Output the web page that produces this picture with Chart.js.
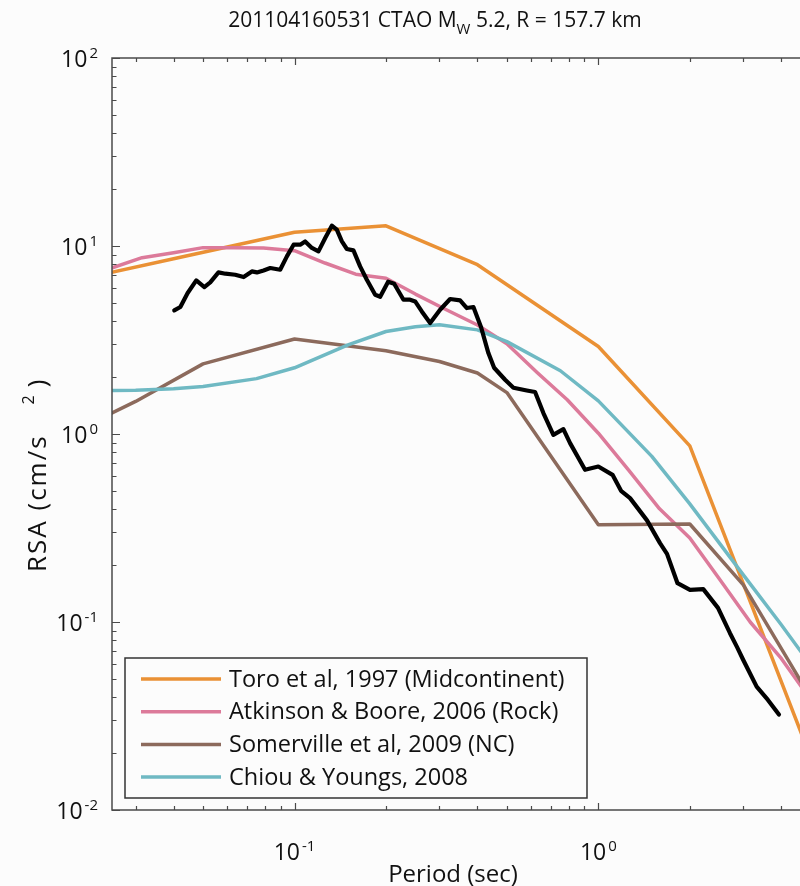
<!DOCTYPE html>
<html>
<head>
<meta charset="utf-8">
<title>RSA vs Period</title>
<script src="https://cdn.jsdelivr.net/npm/chart.js@4.4.1/dist/chart.umd.min.js"></script>
<style>
    html, body { margin: 0; padding: 0; background: #fcfcfc; }
    #wrap { width: 800px; height: 886px; }
</style>
</head>
<body>
<div id="wrap"><canvas id="rsaChart" width="800" height="886"></canvas></div>
<script>
// Toro et al, 1997 (Midcontinent)
const toroPeriods = [0.025, 0.04, 0.1, 0.2, 0.4, 1.0, 2.0, 5.0];
const toroRSA = [7.24, 8.56, 11.84, 12.8, 7.95, 2.92, 0.865, 0.019];

// Atkinson & Boore, 2006 (Rock)
const abPeriods = [0.025, 0.0315, 0.04, 0.05, 0.063, 0.079, 0.1, 0.126, 0.159, 0.2, 0.25, 0.316,
    0.4, 0.5, 0.63, 0.79, 1.0, 1.26, 1.59, 2.0, 2.5, 3.16, 4.0, 5.0];
const abRSA = [7.64, 8.67, 9.21, 9.8, 9.8, 9.75, 9.44, 8.12, 7.08, 6.74, 5.55, 4.58,
    3.8, 3.02, 2.12, 1.52, 1.01, 0.64, 0.4, 0.28, 0.17, 0.1, 0.064, 0.0385];

// Somerville et al, 2009 (NC)
const somPeriods = [0.025, 0.03, 0.05, 0.1, 0.2, 0.3, 0.4, 0.5, 1.0, 2.0, 3.0, 5.0];
const somRSA = [1.29, 1.49, 2.36, 3.2, 2.77, 2.43, 2.11, 1.66, 0.329, 0.332, 0.1575, 0.0395];

// Chiou & Youngs, 2008
const cyPeriods = [0.02, 0.03, 0.04, 0.05, 0.075, 0.1, 0.15, 0.2, 0.25, 0.3, 0.4, 0.5,
    0.75, 1.0, 1.5, 2.0, 3.0, 4.0, 5.0];
const cyRSA = [1.70, 1.71, 1.74, 1.79, 1.97, 2.25, 2.98, 3.51, 3.72, 3.81, 3.58, 3.1,
    2.17, 1.5, 0.76, 0.425, 0.178, 0.0967, 0.059];

// recorded spectrum
const obsPeriods = [0.0402, 0.0421, 0.0445, 0.0475, 0.0505, 0.0528, 0.0562, 0.0592, 0.0638, 0.0680,
    0.0724, 0.0752, 0.0791, 0.0832, 0.0897, 0.0944, 0.0993, 0.1044, 0.1084, 0.1141,
    0.1199, 0.1262, 0.1327, 0.1378, 0.1432, 0.1487, 0.1563, 0.1644, 0.1730, 0.1843,
    0.1914, 0.2033, 0.2128, 0.2284, 0.2402, 0.2495, 0.2624, 0.2795, 0.3014, 0.3252,
    0.3508, 0.3692, 0.3880, 0.4112, 0.4346, 0.4539, 0.4933, 0.5254, 0.5815, 0.6191,
    0.6594, 0.7111, 0.7672, 0.8071, 0.9042, 1.000, 1.1135, 1.1877, 1.2716, 1.4459,
    1.5955, 1.6827, 1.822, 2.003, 2.215, 2.476, 2.712, 2.859, 2.999, 3.319,
    3.615, 3.930];
const obsRSA = [4.543, 4.736, 5.622, 6.560, 6.050, 6.402, 7.236, 7.122, 7.035, 6.839,
    7.325, 7.236, 7.416, 7.638, 7.481, 8.805, 10.16, 10.16, 10.58, 9.76,
    9.36, 11.03, 12.83, 12.21, 10.58, 9.64, 9.475, 7.79, 6.616, 5.506,
    5.373, 6.457, 6.301, 5.179, 5.179, 5.073, 4.487, 3.893, 4.581, 5.224,
    5.135, 4.677, 4.736, 3.698, 2.695, 2.251, 1.943, 1.762, 1.704, 1.673,
    1.292, 0.990, 1.062, 0.8944, 0.645, 0.6714, 0.6064, 0.4984, 0.456, 0.3472,
    0.2627, 0.2304, 0.1609, 0.1482, 0.1495, 0.1189, 0.0872, 0.0737, 0.0628, 0.0453,
    0.0385, 0.0322];

const legendLabels = ["Toro et al, 1997 (Midcontinent)", "Atkinson & Boore, 2006 (Rock)",
    "Somerville et al, 2009 (NC)", "Chiou & Youngs, 2008"];
const xTickExps = [-1, 0];
const yTickExps = [2, 1, 0, -1, -2];

const FONT = '"Open Sans", "DejaVu Sans", sans-serif';
const AXIS_COLOR = "#4a4a4a";

function toPoints(periods, values) {
    return periods.map((p, i) => ({ x: p, y: values[i] }));
}

function minorValues(min, max) {
    const out = [];
    for (let d = -3; d <= 2; d++) {
        for (let m = 1; m <= 9; m++) {
            const v = m * Math.pow(10, d);
            if (v >= min * 0.999 && v <= max * 1.001) out.push({ v, major: m === 1 });
        }
    }
    return out;
}

// "10" with a raised exponent, anchored at (x, baseline)
function drawPow(ctx, exp, x, baseline, align) {
    ctx.font = `23px ${FONT}`;
    const wBase = ctx.measureText("10").width;
    ctx.font = `15px ${FONT}`;
    const wExp = ctx.measureText(exp).width;
    const total = wBase + 2 + wExp;
    const left = align === "right" ? x - total : x - total / 2;
    ctx.textAlign = "left";
    ctx.textBaseline = "alphabetic";
    ctx.font = `23px ${FONT}`;
    ctx.fillText("10", left, baseline);
    ctx.font = `15px ${FONT}`;
    ctx.fillText(exp, left + wBase + 2, baseline - 9);
}

const axesPlugin = {
    id: "matlabAxes",
    afterDatasetsDraw(chart) {
        const { ctx, chartArea: a, scales } = chart;
        const xs = scales.x, ys = scales.y;
        ctx.save();
        ctx.fillStyle = "#111";
        ctx.strokeStyle = AXIS_COLOR;
        ctx.lineWidth = 1.5;

        // box (right side is out of frame)
        ctx.beginPath();
        ctx.moveTo(a.right + 5, a.top);
        ctx.lineTo(a.left, a.top);
        ctx.lineTo(a.left, a.bottom);
        ctx.lineTo(a.right + 5, a.bottom);
        ctx.stroke();

        // inward ticks
        ctx.lineWidth = 1.2;
        ctx.beginPath();
        minorValues(xs.min, xs.max).forEach(t => {
            const px = Math.round(xs.getPixelForValue(t.v)) + 0.5;
            const len = t.major ? 7 : 4;
            ctx.moveTo(px, a.bottom);
            ctx.lineTo(px, a.bottom - len);
            ctx.moveTo(px, a.top);
            ctx.lineTo(px, a.top + len);
        });
        minorValues(ys.min, ys.max).forEach(t => {
            const py = Math.round(ys.getPixelForValue(t.v)) + 0.5;
            const len = t.major ? 8 : 4.5;
            ctx.moveTo(a.left, py);
            ctx.lineTo(a.left + len, py);
        });
        ctx.stroke();

        // tick labels
        yTickExps.forEach(e => {
            const py = ys.getPixelForValue(Math.pow(10, e));
            drawPow(ctx, String(e), a.left - 14, py + 9, "right");
        });
        xTickExps.forEach(e => {
            const px = xs.getPixelForValue(Math.pow(10, e));
            drawPow(ctx, String(e), px, a.bottom + 50, "center");
        });

        // x axis title
        ctx.font = `24px ${FONT}`;
        ctx.textAlign = "center";
        ctx.fillText("Period (sec)", 453, a.bottom + 72);

        // y axis title with superscript
        ctx.save();
        ctx.translate(46, 572);
        ctx.rotate(-Math.PI / 2);
        ctx.textAlign = "left";
        ctx.letterSpacing = "2px";
        ctx.font = `26px ${FONT}`;
        const part1 = "RSA (cm/s";
        ctx.fillText(part1, 0, 0);
        let off = ctx.measureText(part1).width + 30;
        ctx.font = `16px ${FONT}`;
        ctx.fillText("2", off, -12);
        off += ctx.measureText("2").width + 6;
        ctx.font = `26px ${FONT}`;
        ctx.fillText(")", off, 0);
        ctx.letterSpacing = "0px";
        ctx.restore();

        // title with subscript W
        const t1 = "201104160531 CTAO M", t2 = "W", t3 = " 5.2, R = 157.7 km";
        ctx.font = `21px ${FONT}`;
        const w1 = ctx.measureText(t1).width, w3 = ctx.measureText(t3).width;
        ctx.font = `15px ${FONT}`;
        const w2 = ctx.measureText(t2).width;
        let tx = 435 - (w1 + w2 + w3) / 2;
        ctx.textAlign = "left";
        ctx.font = `21px ${FONT}`;
        ctx.fillText(t1, tx, 27);
        tx += w1;
        ctx.font = `15px ${FONT}`;
        ctx.fillText(t2, tx, 34);
        tx += w2;
        ctx.font = `21px ${FONT}`;
        ctx.fillText(t3, tx, 27);

        // legend box
        ctx.fillStyle = "#fcfcfc";
        ctx.fillRect(125, 658, 462, 140);
        ctx.strokeStyle = "#333";
        ctx.lineWidth = 1.5;
        ctx.strokeRect(125, 658, 462, 140);
        const models = chart.data.datasets.filter(ds => ds.label !== "Recorded");
        models.forEach((ds, i) => {
            const ly = 679 + i * 32.7;
            ctx.strokeStyle = ds.borderColor;
            ctx.lineWidth = 3.5;
            ctx.beginPath();
            ctx.moveTo(141, ly);
            ctx.lineTo(221, ly);
            ctx.stroke();
            ctx.fillStyle = "#111";
            ctx.font = `23.5px ${FONT}`;
            ctx.textAlign = "left";
            ctx.textBaseline = "middle";
            ctx.fillText(ds.label, 229, ly + 1);
        });
        ctx.restore();
    }
};

function lineSet(label, periods, values, color, width, order) {
    return {
        label,
        data: toPoints(periods, values),
        borderColor: color,
        borderWidth: width,
        pointRadius: 0,
        tension: 0,
        fill: false,
        borderJoinStyle: "round",
        borderCapStyle: "round",
        order
    };
}

const ctx = document.getElementById("rsaChart").getContext("2d");

new Chart(ctx, {
    type: "line",
    data: {
        datasets: [
            lineSet(legendLabels[0], toroPeriods, toroRSA, "#ea9135", 3.5, 4),
            lineSet(legendLabels[1], abPeriods, abRSA, "#dc7a9a", 3.5, 3),
            lineSet(legendLabels[2], somPeriods, somRSA, "#8c6a5c", 3.5, 2),
            lineSet(legendLabels[3], cyPeriods, cyRSA, "#6fb9c3", 3.5, 1),
            lineSet("Recorded", obsPeriods, obsRSA, "#000000", 4.2, 0)
        ]
    },
    options: {
        responsive: false,
        animation: false,
        devicePixelRatio: 1,
        layout: { padding: { left: 112, top: 58, right: 0, bottom: 76 } },
        plugins: {
            legend: { display: false },
            tooltip: { enabled: false }
        },
        scales: {
            x: { type: "logarithmic", min: 0.02508, max: 4.61, display: false },
            y: { type: "logarithmic", min: 0.01, max: 100, display: false }
        }
    },
    plugins: [axesPlugin]
});
</script>
</body>
</html>
